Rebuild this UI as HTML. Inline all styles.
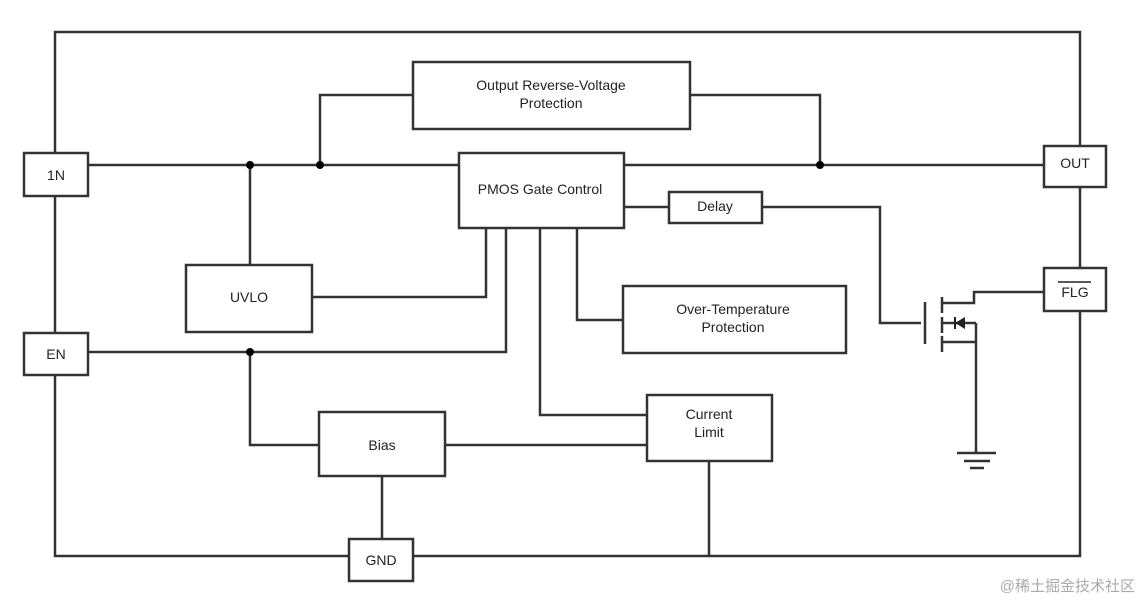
<!DOCTYPE html>
<html><head><style>
body{margin:0;background:#fff;}
svg{display:block;font-family:"Liberation Sans",Arial,sans-serif;}
</style></head><body>
<svg width="1144" height="604" viewBox="0 0 1144 604">
<g stroke="#333" stroke-width="2.5" fill="none">
<rect x="55" y="32" width="1025" height="524"/>
<path d="M88 165H459M320 165V95H413M624 165H1044M820 165V95H690"/>
<path d="M250 165V265M312 297H486V228M88 352H506V228M250 352V445H319M445 445H647M540 228V415H647M577 228V320H623"/>
<path d="M624 207H669M762 207H880V323H921M925 302V344"/>
<path d="M942 297V313M942 317V333M942 336V352"/>
<path d="M942 303H974V292H1044M942 323H976M942 342H976M976 323V453"/>
<path d="M957 453H996M964 461H990M970 468H984"/>
<path d="M709 461V556M382 476V539"/>
</g>
<path d="M955 323L965 317V329Z" fill="#222"/><path d="M955 317V329" stroke="#222" stroke-width="2"/>
<g fill="#000"><circle cx="250" cy="165" r="4"/><circle cx="320" cy="165" r="4"/><circle cx="820" cy="165" r="4"/><circle cx="250" cy="352" r="4"/></g>
<g stroke="#333" stroke-width="2.5" fill="#fff">
<rect x="24" y="153" width="64" height="43"/>
<rect x="413" y="62" width="277" height="67"/>
<rect x="459" y="153" width="165" height="75"/>
<rect x="1044" y="146" width="62" height="41"/>
<rect x="669" y="192" width="93" height="31"/>
<rect x="186" y="265" width="126" height="67"/>
<rect x="623" y="286" width="223" height="67"/>
<rect x="1044" y="268" width="62" height="43"/>
<rect x="24" y="333" width="64" height="42"/>
<rect x="319" y="412" width="126" height="64"/>
<rect x="647" y="395" width="125" height="66"/>
<rect x="349" y="539" width="64" height="42"/>
</g>
<g fill="#222" font-size="14" text-anchor="middle">
<text x="56" y="180">1N</text>
<text x="551" y="90">Output Reverse-Voltage</text>
<text x="551" y="108">Protection</text>
<text x="540" y="194">PMOS Gate Control</text>
<text x="1075" y="168">OUT</text>
<text x="715" y="211">Delay</text>
<text x="249" y="302">UVLO</text>
<text x="733" y="314">Over-Temperature</text>
<text x="733" y="332">Protection</text>
<text x="1075" y="297">FLG</text>
<text x="56" y="359">EN</text>
<text x="382" y="450">Bias</text>
<text x="709" y="419">Current</text>
<text x="709" y="437">Limit</text>
<text x="381" y="565">GND</text>
</g>
<path d="M1058 282H1091" stroke="#222" stroke-width="1.5"/>
<text x="1135" y="591" text-anchor="end" font-size="15" fill="#aaa" font-family="'Liberation Sans','Noto Sans CJK SC',sans-serif">@稀土掘金技术社区</text>
</svg>
</body></html>
